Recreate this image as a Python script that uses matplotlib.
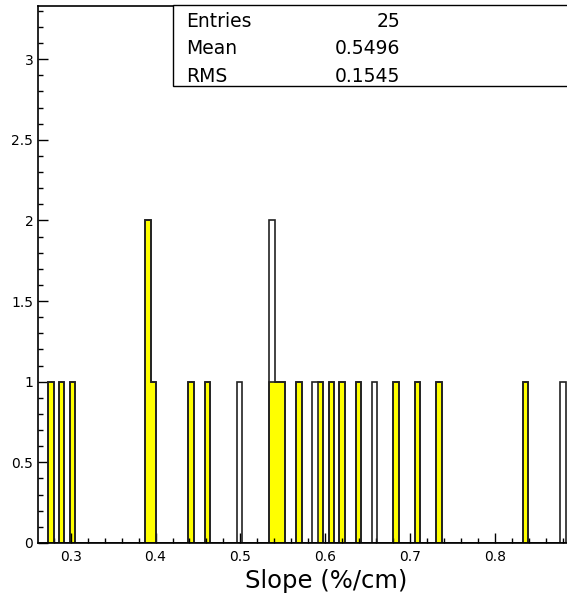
import numpy as np
import matplotlib
matplotlib.use('Agg')
import matplotlib.pyplot as plt
from matplotlib.ticker import MultipleLocator
from matplotlib.patches import Rectangle

# binning of the histogram (100 bins, frame is cut at the right edge)
x_min = 0.2609
bin_width = 0.006352
n_bins = 100

# every entry (bin centres), drawn as the open outline
slope_all = [0.2768, 0.2895, 0.3022, 0.3911, 0.3911, 0.3975, 0.4419, 0.4610,
             0.4991, 0.5372, 0.5372, 0.5435, 0.5499, 0.5690, 0.5880, 0.5944,
             0.6071, 0.6198, 0.6388, 0.6579, 0.6833, 0.7087, 0.7341, 0.8357,
             0.8802]
# selected entries, drawn filled in yellow
slope_sel = [0.2768, 0.2895, 0.3022, 0.3911, 0.3911, 0.3975, 0.4419, 0.4610,
             0.5372, 0.5435, 0.5499, 0.5690, 0.5944, 0.6071, 0.6198, 0.6388,
             0.6833, 0.7087, 0.7341, 0.8357]

stats_labels = ['Entries', 'Mean', 'RMS']
stats_values = ['25', '0.5496', '0.1545']

W, H = 567, 605


def draw_stats_box(fig):
    # stats box in the top right corner, runs off the canvas like the frame
    box = Rectangle((173 / W, 1 - 86 / H), 1.0, 81 / H, transform=fig.transFigure,
                    facecolor='white', edgecolor='black', linewidth=1.0, zorder=5)
    fig.patches.append(box)
    baselines = [26.7, 54.3, 81.7]
    for lab, val, yb in zip(stats_labels, stats_values, baselines):
        fig.text(186 / W, 1 - yb / H, lab, fontsize=13.5, va='baseline', ha='left', zorder=6)
        fig.text(400 / W, 1 - yb / H, val, fontsize=13.5, va='baseline', ha='right', zorder=6)


def main():
    fig = plt.figure(figsize=(W / 100, H / 100), dpi=100)
    ax = fig.add_axes([37.5 / W, 62 / H, (W - 37.5) / W, 537 / H])

    bins = x_min + bin_width * np.arange(n_bins + 1)
    ax.hist(slope_all, bins=bins, histtype='step', color='#222222', linewidth=1.2)
    ax.hist(slope_sel, bins=bins, histtype='stepfilled', facecolor='#ffff00',
            edgecolor='#222222', linewidth=1.2)

    ax.set_xlim(x_min, 0.3 + (W - 70.7) / 848.6)
    ax.set_ylim(0, 3.33)

    ax.spines['right'].set_visible(False)
    for s in ['left', 'bottom', 'top']:
        ax.spines[s].set_linewidth(1.2)

    ax.xaxis.set_major_locator(MultipleLocator(0.1))
    ax.xaxis.set_minor_locator(MultipleLocator(0.02))
    ax.yaxis.set_major_locator(MultipleLocator(0.5))
    ax.yaxis.set_minor_locator(MultipleLocator(0.1))
    ax.tick_params(which='both', direction='in', top=False, right=False, labelsize=10)
    ax.tick_params(which='major', length=7, width=1)
    ax.tick_params(which='minor', length=3.5, width=1)
    ax.tick_params(axis='x', pad=5)
    ax.tick_params(axis='y', pad=3)
    ax.yaxis.set_major_formatter(plt.FuncFormatter(lambda v, p: '%g' % v))
    ax.xaxis.set_major_formatter(plt.FuncFormatter(lambda v, p: '%g' % round(v, 2)))

    fig.text(326 / W, 17 / H, 'Slope (%/cm)', fontsize=17.5, ha='center', va='baseline')

    draw_stats_box(fig)
    fig.savefig('out.png', dpi=100)


if __name__ == '__main__':
    main()
